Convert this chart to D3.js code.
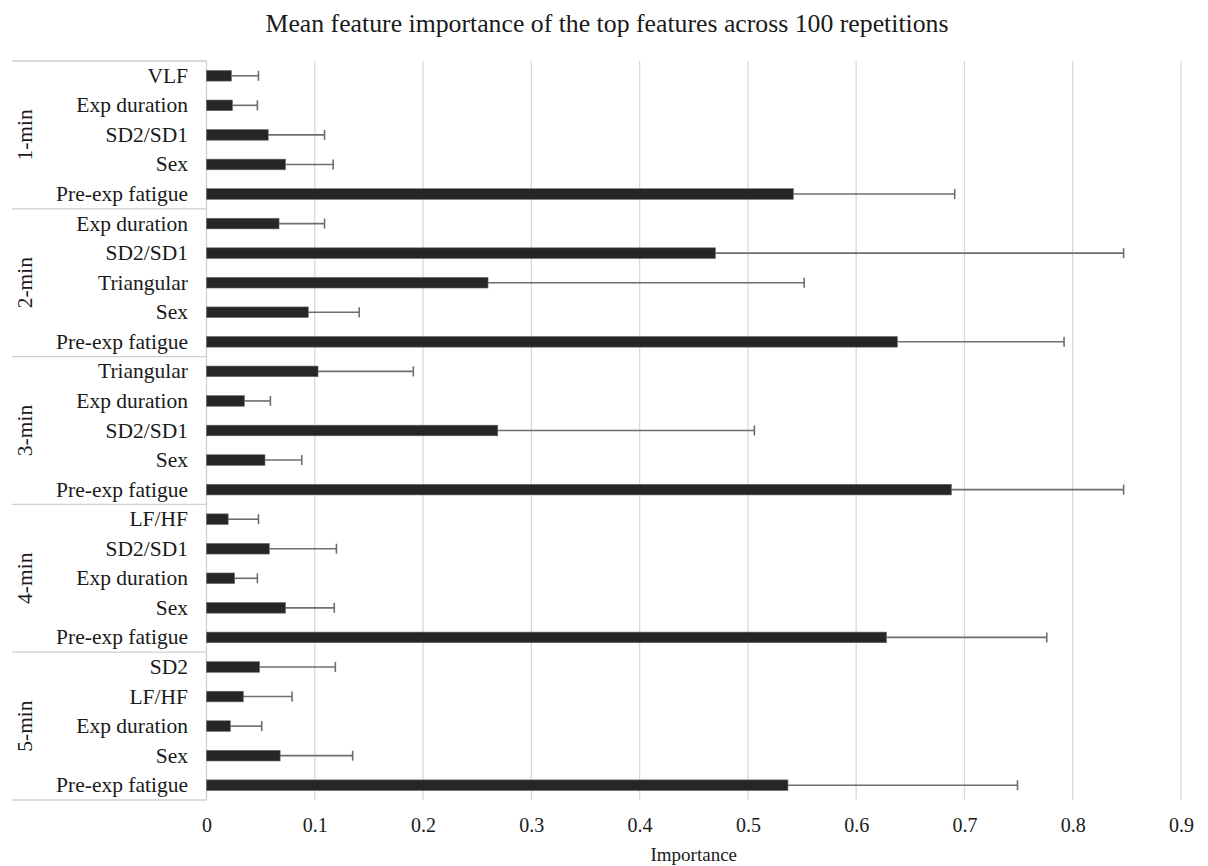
<!DOCTYPE html>
<html>
<head>
<meta charset="utf-8">
<script src="https://cdn.jsdelivr.net/npm/d3@7"></script>
<style>
  html, body { margin: 0; padding: 0; background: #ffffff; }
  svg { display: block; }
  svg text { font-family: "Liberation Serif", Tinos, "Times New Roman", Times, "Nimbus Roman", FreeSerif, serif; fill: #1a1a1a; }
</style>
</head>
<body>
<svg id="chart" width="1208" height="866"></svg>
<script>
// Window lengths (one block of five features each, top to bottom)
const windows = ["1-min", "2-min", "3-min", "4-min", "5-min"];

// Feature names per window, in display order
const features1 = ["VLF", "Exp duration", "SD2/SD1", "Sex", "Pre-exp fatigue"];
const features2 = ["Exp duration", "SD2/SD1", "Triangular", "Sex", "Pre-exp fatigue"];
const features3 = ["Triangular", "Exp duration", "SD2/SD1", "Sex", "Pre-exp fatigue"];
const features4 = ["LF/HF", "SD2/SD1", "Exp duration", "Sex", "Pre-exp fatigue"];
const features5 = ["SD2", "LF/HF", "Exp duration", "Sex", "Pre-exp fatigue"];

// Mean importance across 100 repetitions
const mean1 = [0.023, 0.024, 0.057, 0.073, 0.542];
const mean2 = [0.067, 0.470, 0.260, 0.094, 0.638];
const mean3 = [0.103, 0.035, 0.269, 0.054, 0.688];
const mean4 = [0.020, 0.058, 0.026, 0.073, 0.628];
const mean5 = [0.049, 0.034, 0.022, 0.068, 0.537];

// Standard deviation (upper error bar)
const sd1 = [0.025, 0.023, 0.052, 0.044, 0.149];
const sd2 = [0.042, 0.377, 0.292, 0.047, 0.154];
const sd3 = [0.088, 0.024, 0.237, 0.034, 0.159];
const sd4 = [0.028, 0.062, 0.021, 0.045, 0.148];
const sd5 = [0.070, 0.045, 0.029, 0.067, 0.212];

// Axis ticks
const xTicks = [0, 0.1, 0.2, 0.3, 0.4, 0.5, 0.6, 0.7, 0.8, 0.9];

const titleText = "Mean feature importance of the top features across 100 repetitions";
const xAxisTitle = "Importance";

// Build one row per bar
const featureSets = [features1, features2, features3, features4, features5];
const meanSets = [mean1, mean2, mean3, mean4, mean5];
const sdSets = [sd1, sd2, sd3, sd4, sd5];
const rows = [];
windows.forEach((w, g) => {
  featureSets[g].forEach((f, i) => {
    rows.push({ id: w + "|" + i, win: w, group: g, feature: f, mean: meanSets[g][i], sd: sdSets[g][i] });
  });
});

const svg = d3.select("#chart");
const plot = { left: 206.5, right: 1181, top: 61, bottom: 800 };

const x = d3.scaleLinear().domain([0, 0.9]).range([plot.left, plot.right]);
const y = d3.scaleBand()
  .domain(rows.map(d => d.id))
  .range([plot.top, plot.bottom])
  .paddingInner(0.64)
  .paddingOuter(0.32);
const step = y.step();

// Title
svg.append("text")
  .attr("x", 607)
  .attr("y", 32)
  .attr("text-anchor", "middle")
  .attr("font-size", 25.5)
  .attr("textLength", 683)
  .attr("lengthAdjust", "spacingAndGlyphs")
  .text(titleText);

// Vertical gridlines
svg.append("g")
  .selectAll("line")
  .data(xTicks.slice(1))
  .join("line")
  .attr("x1", d => x(d)).attr("x2", d => x(d))
  .attr("y1", plot.top).attr("y2", plot.bottom)
  .attr("stroke", "#d9d9d9")
  .attr("stroke-width", 1.3);

// Category axis line
svg.append("line")
  .attr("x1", x(0)).attr("x2", x(0))
  .attr("y1", plot.top).attr("y2", plot.bottom)
  .attr("stroke", "#d0d0d0")
  .attr("stroke-width", 1.3);

// Bottom tick labels via d3 axis
const xAxis = d3.axisBottom(x).tickValues(xTicks).tickFormat(d => d === 0 ? "0" : d3.format(".1f")(d)).tickSize(0).tickPadding(0);
const gx = svg.append("g")
  .attr("transform", `translate(0, ${plot.bottom + 32})`)
  .call(xAxis)
  .attr("font-family", null)
  .attr("font-size", null);
gx.select(".domain").remove();
gx.selectAll("text")
  .attr("font-size", 20)
  .attr("fill", "#1a1a1a")
  .attr("dy", 0);

svg.append("text")
  .attr("x", (plot.left + plot.right) / 2)
  .attr("y", 861)
  .attr("text-anchor", "middle")
  .attr("font-size", 19)
  .text(xAxisTitle);

// Group separators on the category side
const bounds = windows.map((w, g) => plot.top + g * 5 * step).concat([plot.bottom]);
svg.append("g")
  .selectAll("line")
  .data(bounds)
  .join("line")
  .attr("x1", 12).attr("x2", plot.left)
  .attr("y1", d => d).attr("y2", d => d)
  .attr("stroke", "#cfcfcf")
  .attr("stroke-width", 1.3);

// Group labels (rotated)
svg.append("g")
  .selectAll("text")
  .data(windows)
  .join("text")
  .attr("transform", (w, g) => `translate(32, ${(bounds[g] + bounds[g + 1]) / 2}) rotate(-90)`)
  .attr("text-anchor", "middle")
  .attr("font-size", 21.5)
  .text(d => d);

// Feature labels
svg.append("g")
  .selectAll("text")
  .data(rows)
  .join("text")
  .attr("x", 188)
  .attr("y", d => y(d.id) + y.bandwidth() / 2 + 7)
  .attr("text-anchor", "end")
  .attr("font-size", 21.5)
  .text(d => d.feature);

// Error bars (upper side only)
const err = svg.append("g");
err.selectAll("line.stem")
  .data(rows)
  .join("line")
  .attr("class", "stem")
  .attr("x1", d => x(d.mean)).attr("x2", d => x(d.mean + d.sd))
  .attr("y1", d => y(d.id) + y.bandwidth() / 2).attr("y2", d => y(d.id) + y.bandwidth() / 2)
  .attr("stroke", "#6e6e6e")
  .attr("stroke-width", 1.6);
err.selectAll("line.cap")
  .data(rows)
  .join("line")
  .attr("class", "cap")
  .attr("x1", d => x(d.mean + d.sd)).attr("x2", d => x(d.mean + d.sd))
  .attr("y1", d => y(d.id) + y.bandwidth() / 2 - 5).attr("y2", d => y(d.id) + y.bandwidth() / 2 + 5)
  .attr("stroke", "#6e6e6e")
  .attr("stroke-width", 1.6);

// Bars
svg.append("g")
  .selectAll("rect")
  .data(rows)
  .join("rect")
  .attr("x", x(0))
  .attr("y", d => y(d.id))
  .attr("width", d => x(d.mean) - x(0))
  .attr("height", y.bandwidth())
  .attr("fill", "#262626")
  .attr("stroke", "#6a6a6a")
  .attr("stroke-width", 0.6);
</script>
</body>
</html>
